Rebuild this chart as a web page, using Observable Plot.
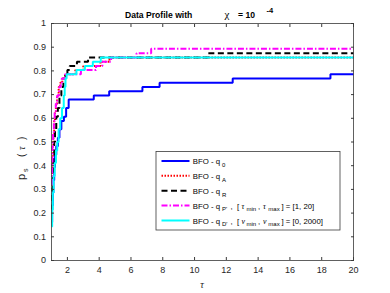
<!DOCTYPE html>
<html><head>
<meta charset="utf-8">
<script src="https://cdn.jsdelivr.net/npm/d3@7"></script>
<script src="https://cdn.jsdelivr.net/npm/@observablehq/plot@0.6"></script>
<style>
body{margin:0;background:#fff}
svg{font-family:"Liberation Sans",Arial,sans-serif}
</style>
</head><body><div id="chart"></div>
<script>
const xTicks = [2, 4, 6, 8, 10, 12, 14, 16, 18, 20];
const yTicks = [0, 0.1, 0.2, 0.3, 0.4, 0.5, 0.6, 0.7, 0.8, 0.9, 1];

const tauQ0 = [1, 1.04, 1.08, 1.12, 1.17, 1.22, 1.3, 1.4, 1.5, 1.62, 1.78, 1.92, 2.08, 3.66, 4.63, 6.72, 7.8, 12.4, 18.55, 20];
const pQ0   = [0.161, 0.232, 0.286, 0.339, 0.393, 0.446, 0.482, 0.518, 0.554, 0.589, 0.607, 0.643, 0.679, 0.696, 0.714, 0.732, 0.75, 0.768, 0.786, 0.786];

const tauQA = [1, 1.04, 1.08, 1.12, 1.17, 1.22, 1.28, 1.35, 1.45, 1.55, 1.68, 1.85, 2.5, 3.0, 4.08, 4.65, 20];
const pQA   = [0.304, 0.411, 0.482, 0.536, 0.589, 0.625, 0.661, 0.696, 0.732, 0.75, 0.768, 0.786, 0.804, 0.821, 0.839, 0.857, 0.857];

const tauQR = [1, 1.04, 1.08, 1.12, 1.17, 1.22, 1.3, 1.4, 1.5, 1.62, 1.75, 1.88, 2.0, 2.15, 2.6, 3.3, 10.86, 20];
const pQR   = [0.214, 0.304, 0.375, 0.446, 0.5, 0.554, 0.607, 0.643, 0.696, 0.732, 0.768, 0.786, 0.804, 0.821, 0.839, 0.857, 0.875, 0.875];

const tauQP = [1, 1.03, 1.06, 1.1, 1.15, 1.2, 1.27, 1.36, 1.48, 1.58, 1.65, 1.85, 2.85, 3.8, 4.2, 4.75, 6.35, 7.27, 20];
const pQP   = [0.321, 0.411, 0.482, 0.536, 0.589, 0.625, 0.661, 0.696, 0.732, 0.75, 0.768, 0.786, 0.804, 0.821, 0.839, 0.857, 0.875, 0.893, 0.893];

const tauQD = [1, 1.04, 1.08, 1.13, 1.2, 1.28, 1.36, 1.45, 1.55, 1.66, 1.77, 1.83, 1.88, 1.95, 2.57, 3.1, 3.6, 4.1, 20];
const pQD   = [0.143, 0.214, 0.286, 0.357, 0.411, 0.464, 0.5, 0.554, 0.6, 0.643, 0.696, 0.732, 0.768, 0.786, 0.804, 0.821, 0.839, 0.857, 0.857];

const seriesDefs = [
  {key: "q0", tau: tauQ0, p: pQ0, stroke: "#0000ff", dash: null},
  {key: "qA", tau: tauQA, p: pQA, stroke: "#ff0000", dash: "1.5,1.5"},
  {key: "qR", tau: tauQR, p: pQR, stroke: "#000000", dash: "6,3.5"},
  {key: "qP", tau: tauQP, p: pQP, stroke: "#ff00ff", dash: "6,2,1.5,2"},
  {key: "qD", tau: tauQD, p: pQD, stroke: "#00ffff", dash: null}
];

const axisColor = "#3a3a3a";

const lineMarks = seriesDefs.map(s => Plot.line(
  s.tau.map((t, i) => ({tau: t, p: s.p[i]})),
  {x: "tau", y: "p", curve: "step-after", stroke: s.stroke, strokeWidth: 2,
   strokeDasharray: s.dash, strokeLinecap: "butt", strokeLinejoin: "miter"}
));

const chart = Plot.plot({
  width: 390, height: 293,
  marginLeft: 51, marginRight: 37, marginTop: 23, marginBottom: 33,
  style: {fontSize: "9px", color: "#262626", background: "#fff"},
  x: {domain: [1, 20]},
  y: {domain: [0, 1]},
  marks: [
    ...lineMarks,
    Plot.frame({stroke: axisColor, strokeWidth: 0.8}),
    Plot.axisX(xTicks, {anchor: "bottom", tickSize: -3, tickPadding: 9, label: null, stroke: axisColor, tickFormat: d => String(d)}),
    Plot.axisX(xTicks, {anchor: "top", tickSize: -3, label: null, stroke: axisColor, tickFormat: () => ""}),
    Plot.axisY(yTicks, {anchor: "left", tickSize: -3, tickPadding: 8.5, label: null, stroke: axisColor, tickFormat: d => String(d)}),
    Plot.axisY(yTicks, {anchor: "right", tickSize: -3, label: null, stroke: axisColor, tickFormat: () => ""})
  ]
});
document.getElementById("chart").appendChild(chart);

const svg = d3.select(chart);
const overlay = svg.append("g").attr("text-anchor", "start").attr("font-family", "'Liberation Sans',Arial,sans-serif");

// Title
const title = overlay.append("text").attr("fill", "#000").attr("y", 18);
title.append("tspan").attr("x", 125).attr("font-weight", "bold").attr("font-size", 8.6).text("Data Profile with");
title.append("tspan").attr("x", 224.5).attr("font-family", "'Liberation Serif',serif").attr("font-size", 11).text("χ");
title.append("tspan").attr("x", 238).attr("font-weight", "bold").attr("font-size", 8.6).text("= 10");
overlay.append("text").attr("x", 266.5).attr("y", 12.5).attr("font-weight", "bold").attr("font-size", 7.5).attr("fill", "#000").text("-4");

// X label
overlay.append("text").attr("x", 202).attr("y", 288).attr("text-anchor", "middle")
  .attr("font-family", "'Liberation Serif',serif").attr("font-style", "italic").attr("font-size", 10).attr("fill", "#262626").text("τ");

// Y label
const yl = overlay.append("g").attr("transform", "translate(25,0) rotate(-90)").attr("fill", "#262626");
yl.append("text").attr("x", -180).attr("y", 0).attr("font-size", 11).text("p");
yl.append("text").attr("x", -172).attr("y", 3).attr("font-size", 7).text("s");
yl.append("text").attr("x", -157).attr("y", 0).attr("font-size", 10).text("(");
yl.append("text").attr("x", -150).attr("y", 0).attr("font-size", 10).attr("font-family", "'Liberation Serif',serif").attr("font-style", "italic").text("τ");
yl.append("text").attr("x", -140).attr("y", 0).attr("font-size", 10).text(")");

// Legend
const lg = overlay.append("g");
lg.append("rect").attr("x", 156).attr("y", 151.5).attr("width", 184).attr("height", 78.5)
  .attr("fill", "#fff").attr("stroke", axisColor).attr("stroke-width", 0.8);
const rowY = [161, 175.8, 190.7, 205.6, 220.5];
const legendFs = 7.8, subFs = 6;
function piece(row, x, txt, opts = {}) {
  const t = lg.append("text").attr("x", x).attr("y", rowY[row] + 3 + (opts.sub ? 2.8 : 0))
    .attr("font-size", opts.sub ? subFs : legendFs).attr("fill", "#000").text(txt);
  if (opts.serif) t.attr("font-family", "'Liberation Serif',serif").attr("font-style", "italic");
  return t;
}
const subs = ["0", "A", "R", "P'", "D'"];
seriesDefs.forEach((s, i) => {
  lg.append("line").attr("x1", 161.5).attr("x2", 189.5).attr("y1", rowY[i]).attr("y2", rowY[i])
    .attr("stroke", s.stroke).attr("stroke-width", 2).attr("stroke-dasharray", s.dash).attr("stroke-linecap", "butt");
  piece(i, 192.7, "BFO - q");
  piece(i, 222, subs[i], {sub: true});
});
[[3, "τ", "] = [1, 20]"], [4, "ν", "] = [0, 2000]"]].forEach(([r, g, tail]) => {
  piece(r, 230.5, ",");
  piece(r, 237, "[");
  piece(r, 241.5, g, {serif: true});
  piece(r, 246.5, "min", {sub: true});
  piece(r, 258, ",");
  piece(r, 263, g, {serif: true});
  piece(r, 268.3, "max", {sub: true});
  piece(r, 281.5, tail);
});
</script>
</body></html>
